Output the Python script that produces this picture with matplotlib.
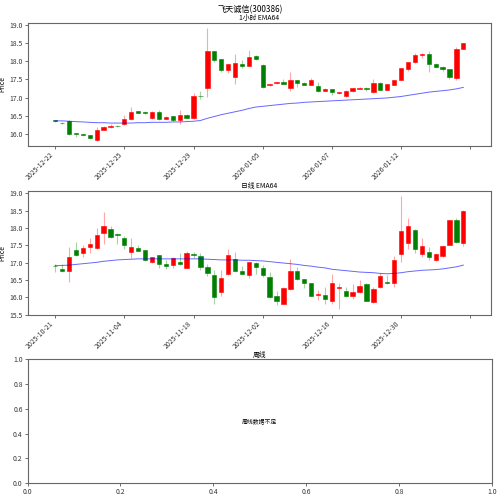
import numpy as np
import matplotlib
matplotlib.use('Agg')
import matplotlib.pyplot as plt

plt.rcParams['font.family'] = ['Noto Sans CJK SC', 'DejaVu Sans']
plt.rcParams['axes.unicode_minus'] = False

# ---- 1 hour bars ----
h_open = [16.38, 16.31, 16.36, 16.02, 16.00, 15.96, 15.83, 16.12, 16.18, 16.23,
          16.27, 16.40, 16.62, 16.61, 16.43, 16.60, 16.41, 16.49, 16.39, 16.51,
          16.43, 17.05, 17.25, 18.27, 18.05, 17.77, 17.57, 17.93, 17.88, 18.14,
          17.89, 17.34, 17.39, 17.44, 17.25, 17.48, 17.41, 17.35, 17.31, 17.19,
          17.23, 17.12, 17.03, 17.17, 17.24, 17.27, 17.14, 17.40, 17.21, 17.35,
          17.48, 17.78, 17.97, 18.17, 18.21, 17.92, 17.85, 17.78, 17.54, 18.34]
h_high = [16.39, 16.32, 16.38, 16.03, 16.01, 15.97, 16.19, 16.21, 16.28, 16.24,
          16.51, 16.75, 16.63, 16.62, 16.62, 16.65, 16.49, 16.50, 16.65, 16.55,
          17.12, 17.18, 18.90, 18.29, 18.06, 17.92, 18.19, 18.04, 18.30, 18.16,
          17.91, 17.38, 17.44, 17.50, 17.69, 17.49, 17.42, 17.55, 17.44, 17.25,
          17.24, 17.16, 17.22, 17.27, 17.28, 17.28, 17.50, 17.44, 17.38, 17.48,
          17.81, 17.99, 18.22, 18.22, 18.28, 17.95, 17.87, 17.79, 18.40, 18.51]
h_low = [16.34, 16.28, 15.97, 15.93, 15.95, 15.87, 15.82, 16.11, 16.17, 16.20,
         16.25, 16.38, 16.57, 16.56, 16.42, 16.38, 16.40, 16.37, 16.27, 16.43,
         16.42, 16.97, 17.01, 17.99, 17.69, 17.68, 17.38, 17.80, 17.86, 18.03,
         17.25, 17.32, 17.38, 17.37, 17.19, 17.30, 17.34, 17.34, 17.14, 17.18,
         17.07, 17.11, 17.02, 17.16, 17.23, 17.18, 17.13, 17.20, 17.20, 17.34,
         17.47, 17.73, 17.96, 18.10, 17.71, 17.80, 17.74, 17.50, 17.48, 18.33]
h_close = [16.35, 16.29, 16.00, 15.99, 15.96, 15.88, 16.12, 16.20, 16.22, 16.21,
           16.40, 16.61, 16.58, 16.58, 16.60, 16.41, 16.48, 16.39, 16.51, 16.44,
           17.04, 17.04, 18.27, 18.02, 17.77, 17.91, 17.95, 17.88, 18.12, 18.05,
           17.29, 17.37, 17.43, 17.38, 17.47, 17.40, 17.35, 17.49, 17.17, 17.24,
           17.14, 17.15, 17.18, 17.26, 17.27, 17.24, 17.41, 17.21, 17.37, 17.47,
           17.80, 17.97, 18.17, 18.21, 17.92, 17.85, 17.78, 17.56, 18.33, 18.49]
h_ema = [16.36, 16.36, 16.35, 16.34, 16.33, 16.32, 16.31, 16.31, 16.30, 16.30,
         16.30, 16.30, 16.31, 16.31, 16.32, 16.32, 16.32, 16.33, 16.33, 16.34,
         16.35, 16.37, 16.43, 16.48, 16.53, 16.57, 16.61, 16.65, 16.70, 16.74,
         16.76, 16.78, 16.80, 16.82, 16.84, 16.85, 16.87, 16.88, 16.89, 16.90,
         16.91, 16.92, 16.93, 16.94, 16.95, 16.96, 16.97, 16.98, 16.99, 17.01,
         17.03, 17.06, 17.09, 17.12, 17.15, 17.17, 17.19, 17.21, 17.24, 17.28]
h_ticklabels = ['2025-12-22', '2025-12-25', '2025-12-29', '2026-01-05',
                '2026-01-07', '2026-01-12', '']

# ---- daily bars ----
d_open = [16.91, 16.81, 16.77, 17.38, 17.29, 17.46, 17.41, 17.87, 17.97, 17.82,
          17.71, 17.32, 17.41, 17.36, 17.02, 17.21, 16.95, 16.94, 17.01, 16.86,
          17.25, 17.18, 16.88, 16.65, 16.14, 16.66, 17.11, 16.76, 16.63, 16.98,
          16.84, 16.60, 16.04, 15.82, 16.24, 16.77, 16.52, 16.40, 16.07, 16.07,
          15.89, 16.26, 16.18, 16.04, 16.14, 16.39, 15.87, 16.30, 16.45, 16.42,
          17.25, 17.56, 17.95, 17.25, 17.32, 17.08, 17.18, 17.52, 18.22, 17.56]
d_high = [16.95, 16.97, 17.45, 17.61, 17.51, 17.71, 18.01, 18.46, 18.05, 17.85,
          17.78, 17.70, 17.50, 17.37, 17.17, 17.23, 17.08, 17.15, 17.28, 17.34,
          17.31, 17.27, 16.96, 16.80, 16.78, 17.40, 17.31, 16.89, 17.03, 17.02,
          16.92, 16.74, 16.17, 16.30, 17.12, 16.87, 16.54, 16.42, 16.21, 16.30,
          16.66, 16.42, 16.31, 16.38, 16.50, 16.41, 16.30, 16.69, 16.65, 17.20,
          18.91, 18.30, 17.97, 17.71, 17.45, 17.28, 17.50, 18.24, 18.30, 18.52]
d_low = [16.72, 16.74, 16.45, 17.19, 17.17, 17.28, 17.40, 17.53, 17.72, 17.53,
         17.40, 17.13, 17.34, 17.06, 17.00, 16.86, 16.82, 16.85, 16.93, 16.84,
         17.14, 16.80, 16.61, 15.82, 16.05, 16.63, 16.72, 16.66, 16.57, 16.68,
         16.60, 15.98, 15.78, 15.80, 16.22, 16.50, 16.26, 16.03, 15.92, 15.80,
         15.80, 15.65, 16.02, 15.94, 16.12, 15.88, 15.85, 16.28, 16.39, 16.30,
         17.03, 17.39, 17.27, 17.17, 17.08, 17.06, 17.16, 17.50, 17.57, 17.49]
d_close = [16.90, 16.75, 17.16, 17.21, 17.41, 17.53, 17.80, 18.06, 17.74, 17.80,
           17.52, 17.44, 17.35, 17.08, 17.15, 16.95, 16.91, 17.14, 16.95, 17.27,
           17.21, 16.88, 16.71, 16.00, 16.57, 17.23, 16.76, 16.68, 17.01, 16.88,
           16.63, 16.00, 15.88, 16.26, 16.77, 16.52, 16.42, 16.04, 16.09, 15.95,
           16.40, 16.29, 16.04, 16.15, 16.34, 15.90, 16.24, 16.61, 16.41, 17.08,
           17.92, 18.07, 17.40, 17.49, 17.15, 17.26, 17.49, 18.22, 17.59, 18.50]
d_ema = [16.92, 16.92, 16.93, 16.95, 16.97, 16.99, 17.01, 17.04, 17.06, 17.08,
         17.09, 17.10, 17.11, 17.11, 17.11, 17.11, 17.11, 17.11, 17.11, 17.11,
         17.11, 17.11, 17.10, 17.09, 17.08, 17.08, 17.08, 17.07, 17.07, 17.06,
         17.05, 17.03, 17.01, 16.99, 16.97, 16.95, 16.92, 16.90, 16.87, 16.85,
         16.81, 16.79, 16.77, 16.75, 16.73, 16.72, 16.71, 16.69, 16.68, 16.69,
         16.71, 16.74, 16.76, 16.78, 16.79, 16.80, 16.82, 16.85, 16.88, 16.93]
d_ticklabels = ['2025-10-21', '2025-11-04', '2025-11-18', '2025-12-02',
                '2025-12-16', '2025-12-30', '']

TICK_FS = 4.9
TITLE_FS = 4.9


def style_ax(ax):
    for s in ax.spines.values():
        s.set_color('#666666')
        s.set_linewidth(0.8)
    ax.tick_params(labelsize=TICK_FS, length=2, width=0.5, pad=1.5, colors='#333333')


def candles(ax, o, h, l, c, ema, labels, title):
    o, h, l, c = map(np.array, (o, h, l, c))
    x = np.arange(len(o))
    up = c >= o
    col = np.where(up, 'red', 'green')
    ax.vlines(x, l, h, colors=col, alpha=0.35, linewidth=0.8)
    body = np.where(np.abs(c - o) < 0.01, 0.01, c - o)
    ax.bar(x, body, bottom=o, width=0.62, color=col, edgecolor=col, linewidth=0.4)
    ax.plot(x, ema, color='blue', alpha=0.6, linewidth=0.7)
    ax.set_xticks(np.arange(0, len(o) + 1, 10))
    ax.set_xticklabels(labels, rotation=45, ha='right')
    ax.set_xlim(-4, 63)
    ax.set_ylabel('Price', fontsize=TICK_FS, labelpad=2)
    ax.set_title(title, fontsize=TITLE_FS, pad=2)
    style_ax(ax)


fig = plt.figure(figsize=(5, 4.97), dpi=100)
ax1 = fig.add_axes([0.055, 0.706, 0.927, 0.248])
ax2 = fig.add_axes([0.055, 0.366, 0.927, 0.250])
ax3 = fig.add_axes([0.055, 0.028, 0.929, 0.249])

candles(ax1, h_open, h_high, h_low, h_close, h_ema, h_ticklabels, '1小时 EMA64')
candles(ax2, d_open, d_high, d_low, d_close, d_ema, d_ticklabels, '日线 EMA64')

ax3.text(0.5, 0.5, '周线数据不足', ha='center', va='center', fontsize=4.2,
         transform=ax3.transAxes)
ax3.set_title('周线', fontsize=TITLE_FS, pad=2)
style_ax(ax3)

fig.suptitle('飞天诚信(300386)', fontsize=5.9, y=0.99)

fig.savefig('out.png', dpi=100)
